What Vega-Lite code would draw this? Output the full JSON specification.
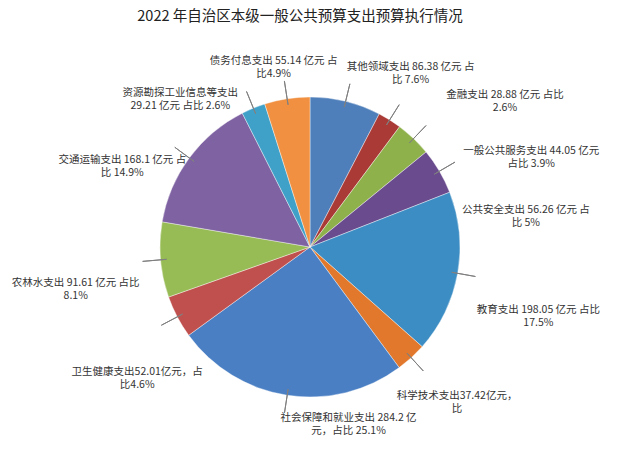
{
  "$schema": "https://vega.github.io/schema/vega-lite/v6.json",
  "width": 620,
  "height": 352,
  "autosize": "none",
  "padding": {"left": 0, "top": 71, "right": 20, "bottom": 30},
  "background": "white",
  "title": {
    "text": "2022 年自治区本级一般公共预算支出预算执行情况",
    "font": "Noto Sans CJK SC",
    "fontSize": 14.5,
    "fontWeight": "normal",
    "color": "#222222",
    "anchor": "middle",
    "offset": 31,
    "dx": -10
  },
  "data": {
    "values": [
      {"order": 1, "item": "其他领域支出", "value": 86.38, "label": "其他领域支出 86.38 亿元 占\n比 7.6%"},
      {"order": 2, "item": "金融支出", "value": 28.88, "label": "金融支出 28.88 亿元 占比\n2.6%"},
      {"order": 3, "item": "一般公共服务支出", "value": 44.05, "label": "一般公共服务支出 44.05 亿元\n占比 3.9%"},
      {"order": 4, "item": "公共安全支出", "value": 56.26, "label": "公共安全支出 56.26 亿元 占\n比 5%"},
      {"order": 5, "item": "教育支出", "value": 198.05, "label": "教育支出 198.05 亿元 占比\n17.5%"},
      {"order": 6, "item": "科学技术支出", "value": 37.42, "label": "科学技术支出37.42亿元，\n比"},
      {"order": 7, "item": "社会保障和就业支出", "value": 284.2, "label": "社会保障和就业支出 284.2 亿\n元，占比 25.1%"},
      {"order": 8, "item": "卫生健康支出", "value": 52.01, "label": "卫生健康支出52.01亿元，占\n比4.6%"},
      {"order": 9, "item": "农林水支出", "value": 91.61, "label": "农林水支出 91.61 亿元 占比\n8.1%"},
      {"order": 10, "item": "交通运输支出", "value": 168.1, "label": "交通运输支出 168.1 亿元 占\n比 14.9%"},
      {"order": 11, "item": "资源勘探工业信息等支出", "value": 29.21, "label": "资源勘探工业信息等支出\n29.21 亿元 占比 2.6%"},
      {"order": 12, "item": "债务付息支出", "value": 55.14, "label": "债务付息支出 55.14 亿元 占\n比4.9%"}
    ]
  },
  "transform": [
    {"stack": "value", "groupby": [], "sort": [{"field": "order", "order": "ascending"}], "as": ["v0", "v1"]},
    {"calculate": "(datum.v0 + datum.v1) / 2", "as": "mid"}
  ],
  "layer": [
    {
      "mark": {"type": "arc", "outerRadius": 150, "stroke": "white", "strokeWidth": 0.4},
      "encoding": {
        "theta": {"field": "v0", "type": "quantitative", "scale": {"domain": [0, 1131.31]}},
        "theta2": {"field": "v1"},
        "color": {
          "field": "item",
          "type": "nominal",
          "legend": null,
          "scale": {
            "domain": ["其他领域支出", "金融支出", "一般公共服务支出", "公共安全支出", "教育支出", "科学技术支出", "社会保障和就业支出", "卫生健康支出", "农林水支出", "交通运输支出", "资源勘探工业信息等支出", "债务付息支出"],
            "range": ["#4F7FBA", "#A93A36", "#8FB14B", "#6A4C8E", "#3C8DC3", "#E1782B", "#4A7FC4", "#C0504D", "#97BB55", "#7E62A2", "#3FA0C8", "#F09040"]
          }
        }
      }
    },
    {
      "mark": {"type": "arc", "outerRadius": 168, "innerRadius": 144, "fill": null, "stroke": "#808080", "strokeWidth": 1},
      "encoding": {
        "theta": {"field": "mid", "type": "quantitative"},
        "theta2": {"field": "mid"}
      }
    },
    {
      "transform": [{"filter": "datum.order == 1"}],
      "mark": {"type": "text", "radius": 206, "thetaOffset": 0.27, "font": "Noto Sans CJK SC", "fontSize": 10.5, "color": "#333333", "lineBreak": "\n", "lineHeight": 13},
      "encoding": {"theta": {"field": "mid", "type": "quantitative"}, "text": {"field": "label"}}
    },
    {
      "transform": [{"filter": "datum.order == 2"}],
      "mark": {"type": "text", "radius": 247, "thetaOffset": 0.35, "font": "Noto Sans CJK SC", "fontSize": 10.5, "color": "#333333", "lineBreak": "\n", "lineHeight": 13},
      "encoding": {"theta": {"field": "mid", "type": "quantitative"}, "text": {"field": "label"}}
    },
    {
      "transform": [{"filter": "datum.order == 3"}],
      "mark": {"type": "text", "radius": 241, "thetaOffset": 0.4, "font": "Noto Sans CJK SC", "fontSize": 10.5, "color": "#333333", "lineBreak": "\n", "lineHeight": 13},
      "encoding": {"theta": {"field": "mid", "type": "quantitative"}, "text": {"field": "label"}}
    },
    {
      "transform": [{"filter": "datum.order == 4"}],
      "mark": {"type": "text", "radius": 219, "thetaOffset": 0.36, "font": "Noto Sans CJK SC", "fontSize": 10.5, "color": "#333333", "lineBreak": "\n", "lineHeight": 13},
      "encoding": {"theta": {"field": "mid", "type": "quantitative"}, "text": {"field": "label"}}
    },
    {
      "transform": [{"filter": "datum.order == 5"}],
      "mark": {"type": "text", "radius": 237, "thetaOffset": 0.094, "font": "Noto Sans CJK SC", "fontSize": 10.5, "color": "#333333", "lineBreak": "\n", "lineHeight": 13},
      "encoding": {"theta": {"field": "mid", "type": "quantitative"}, "text": {"field": "label"}}
    },
    {
      "transform": [{"filter": "datum.order == 6"}],
      "mark": {"type": "text", "radius": 209, "thetaOffset": -0.04, "font": "Noto Sans CJK SC", "fontSize": 10.5, "color": "#333333", "lineBreak": "\n", "lineHeight": 13},
      "encoding": {"theta": {"field": "mid", "type": "quantitative"}, "text": {"field": "label"}}
    },
    {
      "transform": [{"filter": "datum.order == 7"}],
      "mark": {"type": "text", "radius": 175, "thetaOffset": -0.375, "font": "Noto Sans CJK SC", "fontSize": 10.5, "color": "#333333", "lineBreak": "\n", "lineHeight": 13},
      "encoding": {"theta": {"field": "mid", "type": "quantitative"}, "text": {"field": "label"}}
    },
    {
      "transform": [{"filter": "datum.order == 8"}],
      "mark": {"type": "text", "radius": 213, "thetaOffset": -0.14, "font": "Noto Sans CJK SC", "fontSize": 10.5, "color": "#333333", "lineBreak": "\n", "lineHeight": 13},
      "encoding": {"theta": {"field": "mid", "type": "quantitative"}, "text": {"field": "label"}}
    },
    {
      "transform": [{"filter": "datum.order == 9"}],
      "mark": {"type": "text", "radius": 237, "thetaOffset": -0.065, "font": "Noto Sans CJK SC", "fontSize": 10.5, "color": "#333333", "lineBreak": "\n", "lineHeight": 13},
      "encoding": {"theta": {"field": "mid", "type": "quantitative"}, "text": {"field": "label"}}
    },
    {
      "transform": [{"filter": "datum.order == 10"}],
      "mark": {"type": "text", "radius": 207, "thetaOffset": -0.2, "font": "Noto Sans CJK SC", "fontSize": 10.5, "color": "#333333", "lineBreak": "\n", "lineHeight": 13},
      "encoding": {"theta": {"field": "mid", "type": "quantitative"}, "text": {"field": "label"}}
    },
    {
      "transform": [{"filter": "datum.order == 11"}],
      "mark": {"type": "text", "radius": 201, "thetaOffset": -0.314, "font": "Noto Sans CJK SC", "fontSize": 10.5, "color": "#333333", "lineBreak": "\n", "lineHeight": 13},
      "encoding": {"theta": {"field": "mid", "type": "quantitative"}, "text": {"field": "label"}}
    },
    {
      "transform": [{"filter": "datum.order == 12"}],
      "mark": {"type": "text", "radius": 190, "thetaOffset": -0.04, "font": "Noto Sans CJK SC", "fontSize": 10.5, "color": "#333333", "lineBreak": "\n", "lineHeight": 13},
      "encoding": {"theta": {"field": "mid", "type": "quantitative"}, "text": {"field": "label"}}
    }
  ]
}
